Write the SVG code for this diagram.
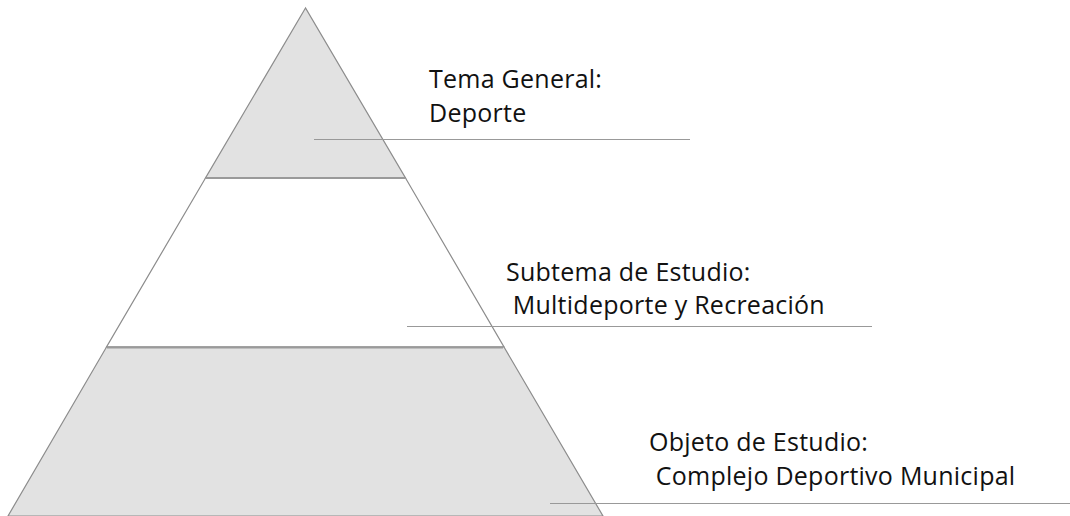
<svg xmlns="http://www.w3.org/2000/svg" width="1070" height="516" viewBox="0 0 1070 516">
<style>
.lvl{stroke:#8c8c8c;stroke-width:1.2}
.g{fill:#e2e2e2}
.w{fill:#ffffff}
.band{stroke:#9a9a9a;stroke-width:2}
.lead{stroke:#999999;stroke-width:1.2;fill:none}
text{font-family:"Open Sans","Noto Sans",sans-serif;font-size:25px;letter-spacing:0.25px;fill:#111111}
</style>
<rect width="1070" height="516" fill="#ffffff"/>
<g id="level-top">
<polygon class="lvl g" points="305.5,8 205.5,178 405.5,178"/>
</g>
<g id="level-middle">
<polygon class="lvl w" points="205.5,178 405.5,178 504,347 106.5,347"/>
</g>
<g id="level-bottom">
<polygon class="lvl g" points="106.5,347 504,347 603,516 8,516"/>
</g>
<g id="bands">
<line class="band" x1="206" y1="178" x2="405" y2="178"/>
<line class="band" x1="107" y1="347.5" x2="503" y2="347.5"/>
</g>
<g id="connectors">
<line class="lead" x1="314" y1="139.5" x2="690" y2="139.5"/>
<line class="lead" x1="407" y1="326.5" x2="872" y2="326.5"/>
<line class="lead" x1="550" y1="503.5" x2="1070" y2="503.5"/>
</g>
<g id="label-tema">
<text x="429" y="88">Tema General:</text>
<text x="429" y="122">Deporte</text>
</g>
<g id="label-subtema">
<text x="506" y="281">Subtema de Estudio:</text>
<text x="506" y="314" xml:space="preserve"> Multideporte y Recreación</text>
</g>
<g id="label-objeto">
<text x="649" y="451">Objeto de Estudio:</text>
<text x="649" y="485" xml:space="preserve"> Complejo Deportivo Municipal</text>
</g>
</svg>
